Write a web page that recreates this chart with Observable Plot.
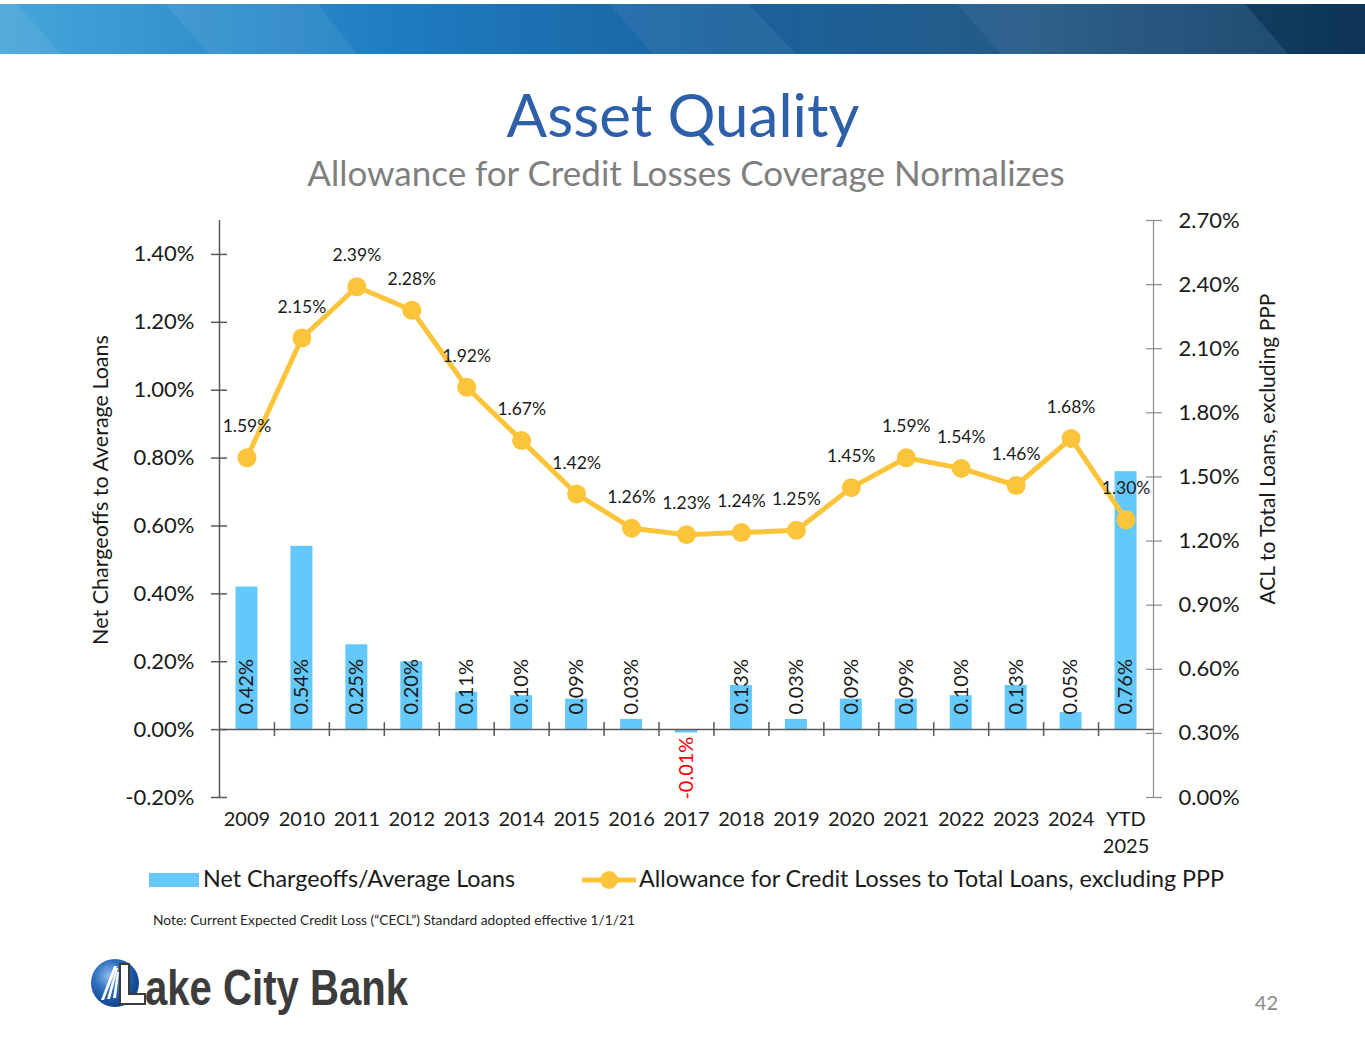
<!DOCTYPE html>
<html>
<head>
<meta charset="utf-8">
<script src="https://cdn.jsdelivr.net/npm/d3@7"></script>
<script src="https://cdn.jsdelivr.net/npm/@observablehq/plot@0.6"></script>
<style>
  html, body { margin: 0; padding: 0; background: #fff; }
  body { width: 1365px; height: 1055px; position: relative; overflow: hidden; font-family: Lato, "Open Sans", sans-serif; }
  #page { position: absolute; left: 0; top: 0; }
  #chart { position: absolute; left: 0; top: 200px; }
  #chart svg { max-width: none; }
</style>
</head>
<body>
<svg id="page" width="1365" height="1055" xmlns="http://www.w3.org/2000/svg" font-family="Lato, sans-serif">
  <defs>
    <linearGradient id="bannerGrad" x1="0" x2="1" y1="0" y2="0">
      <stop offset="0" stop-color="#47a6da"/>
      <stop offset="0.28" stop-color="#1f7dc2"/>
      <stop offset="0.52" stop-color="#1a629f"/>
      <stop offset="0.75" stop-color="#245a86"/>
      <stop offset="1" stop-color="#0f3b62"/>
    </linearGradient>
    <radialGradient id="logoGrad" cx="0.38" cy="0.35" r="0.7">
      <stop offset="0" stop-color="#8fbdea"/>
      <stop offset="0.45" stop-color="#2f6fc0"/>
      <stop offset="1" stop-color="#0a3a86"/>
    </radialGradient>
  </defs>
  <!-- banner -->
  <rect x="0" y="4" width="1365" height="50" fill="url(#bannerGrad)"/>
  <polygon points="0,4 17,4 61,54 0,54" fill="#ffffff" fill-opacity="0.07"/>
  <polygon points="165,4 318,4 357,54 209,54" fill="#ffffff" fill-opacity="0.07"/>
  <polygon points="609,4 748,4 796,54 653,54" fill="#ffffff" fill-opacity="0.06"/>
  <polygon points="957,4 1245,4 1288,54 1001,54" fill="#ffffff" fill-opacity="0.05"/>
  <polygon points="1245,4 1365,4 1365,54 1288,54" fill="#000000" fill-opacity="0.12"/>

  <!-- titles -->
  <text x="683" y="137" text-anchor="middle" font-size="60" fill="#2d60a8">Asset Quality</text>
  <text x="686" y="186" text-anchor="middle" font-size="35" fill="#7f7f7f">Allowance for Credit Losses Coverage Normalizes</text>

  <!-- axis titles -->
  <text transform="translate(100,490) rotate(-90)" text-anchor="middle" dominant-baseline="central" font-size="21.5" fill="#1a1a1a">Net Chargeoffs to Average Loans</text>
  <text transform="translate(1266,449) rotate(-90)" text-anchor="middle" dominant-baseline="central" font-size="21" fill="#1a1a1a">ACL to Total Loans, excluding PPP</text>

  <!-- legend -->
  <g id="legend">
    <rect x="149" y="873" width="50" height="14" fill="#64c8fa"/>
    <text x="203" y="887" font-size="23.3" fill="#1a1a1a">Net Chargeoffs/Average Loans</text>
    <line x1="582" x2="636" y1="880" y2="880" stroke="#fbc43a" stroke-width="5"/>
    <circle cx="609" cy="880" r="9" fill="#fbc43a"/>
    <text x="639" y="887" font-size="23.3" fill="#1a1a1a">Allowance for Credit Losses to Total Loans, excluding PPP</text>
  </g>

  <!-- note -->
  <text x="153" y="925" font-size="13.8" fill="#262626">Note: Current Expected Credit Loss (“CECL”) Standard adopted effective 1/1/21</text>

  <!-- logo -->
  <g id="logo">
    <circle cx="115" cy="983" r="24" fill="url(#logoGrad)"/>
    <polygon points="114,966 117,966 104,1000 101,1000" fill="#ffffff"/>
    <polygon points="116,968 118,968 110,999 107,999" fill="#ffffff"/>
    <polygon points="117,972 119,972 116,998 113,998" fill="#ffffff"/>
    <polygon points="120,964 129,964 129,994 145,994 145,1004 120,1004" fill="#ffffff" stroke="#3c3c3c" stroke-width="2"/>
    <text x="145" y="1005" font-family="'Liberation Sans', Arial, sans-serif" font-weight="bold" font-size="50" fill="#3c3c3c" textLength="263" lengthAdjust="spacingAndGlyphs">ake City Bank</text>
  </g>

  <!-- page number -->
  <text x="1278" y="1010" text-anchor="end" font-size="20" fill="#8a8a8a">42</text>
</svg>
<div id="chart"></div>
<script>
// ---- data ----
const categories = ["2009","2010","2011","2012","2013","2014","2015","2016","2017","2018","2019","2020","2021","2022","2023","2024","YTD\n2025"];
const netChargeoffs = [0.42,0.54,0.25,0.20,0.11,0.10,0.09,0.03,-0.01,0.13,0.03,0.09,0.09,0.10,0.13,0.05,0.76];
const aclToLoans = [1.59,2.15,2.39,2.28,1.92,1.67,1.42,1.26,1.23,1.24,1.25,1.45,1.59,1.54,1.46,1.68,1.30];
const leftTicks = [-0.2,0,0.2,0.4,0.6,0.8,1.0,1.2,1.4];
const rightTicks = [0,0.3,0.6,0.9,1.2,1.5,1.8,2.1,2.4,2.7];
const leftDomain = [-0.2, 1.5];
const rightDomain = [0, 2.7];

// ---- styles ----
const BAR = "#64c8fa";
const LINE = "#fbc43a";
const AXIS = "#595959";
const AXIS_R = "#8c8c8c";
const TXT = "#1a1a1a";
const NEG = "#ff0000";

const W = 1365, H = 670, ML = 219, MR = 212, MT = 20, MB = 73;
const step = (W - ML - MR) / categories.length;

const toLeft = d3.scaleLinear().domain(rightDomain).range(leftDomain);
const pct = v => (Math.round(v * 100) / 100).toFixed(2) + "%";

const rows = categories.map((c, i) => ({cat: c, nco: netChargeoffs[i], acl: aclToLoans[i], aclY: toLeft(aclToLoans[i])}));

const chart = Plot.plot({
  width: W, height: H,
  marginLeft: ML, marginRight: MR, marginTop: MT, marginBottom: MB,
  style: {fontFamily: "Lato, sans-serif", color: TXT, background: "transparent", overflow: "visible"},
  x: {type: "band", domain: categories, paddingInner: 0.6, paddingOuter: 0.3, round: false},
  y: {domain: leftDomain},
  marks: [
    Plot.barY(rows, {x: "cat", y: "nco", fill: BAR}),
    Plot.text(rows.filter(d => d.nco >= 0), {x: "cat", y: 0, text: d => pct(d.nco), rotate: -90, textAnchor: "start", dy: -15, fontSize: 20, fill: TXT}),
    Plot.text(rows.filter(d => d.nco < 0), {x: "cat", y: 0, text: d => pct(d.nco), rotate: -90, textAnchor: "end", dy: 7, fontSize: 20, fill: NEG}),
    Plot.ruleY([0], {stroke: AXIS, strokeWidth: 1.5}),
    Plot.ruleX(categories.slice(1), {dx: -step / 2, y1: 0, y2: 0, insetTop: -7, insetBottom: -7, stroke: AXIS, strokeWidth: 1.5}),
    Plot.ruleX([categories[0]], {dx: -step / 2, y1: leftDomain[0], y2: leftDomain[1], stroke: AXIS, strokeWidth: 1.5}),
    Plot.ruleX([categories[categories.length - 1]], {dx: step / 2, y1: leftDomain[0], y2: leftDomain[1], stroke: AXIS_R, strokeWidth: 1.2}),
    Plot.axisY(leftTicks, {anchor: "left", tickSize: 16, dx: 8, fill: "none", label: null, stroke: AXIS, strokeWidth: 1.5}),
    Plot.axisY(leftTicks, {anchor: "left", tickSize: 0, tickPadding: 25, tickFormat: pct, fontSize: 22, fill: TXT, label: null}),
    Plot.axisY(rightTicks.map(toLeft), {anchor: "right", tickSize: 16, dx: -8, fill: "none", label: null, stroke: AXIS_R, strokeWidth: 1.2}),
    Plot.axisY(rightTicks.map(toLeft), {anchor: "right", tickSize: 0, tickPadding: 25, tickFormat: d => pct(toLeft.invert(d)), fontSize: 22, fill: TXT, label: null}),
    Plot.axisX({tickSize: 0, tickPadding: 9, fontSize: 20, lineHeight: 1.35, fill: TXT, label: null}),
    Plot.line(rows, {x: "cat", y: "aclY", stroke: LINE, strokeWidth: 5}),
    Plot.dot(rows, {x: "cat", y: "aclY", r: 9.5, fill: LINE}),
    Plot.text(rows, {x: "cat", y: "aclY", text: d => pct(d.acl), dy: -31, fontSize: 17.5, fill: TXT})
  ]
});
document.getElementById("chart").appendChild(chart);
</script>
</body>
</html>
